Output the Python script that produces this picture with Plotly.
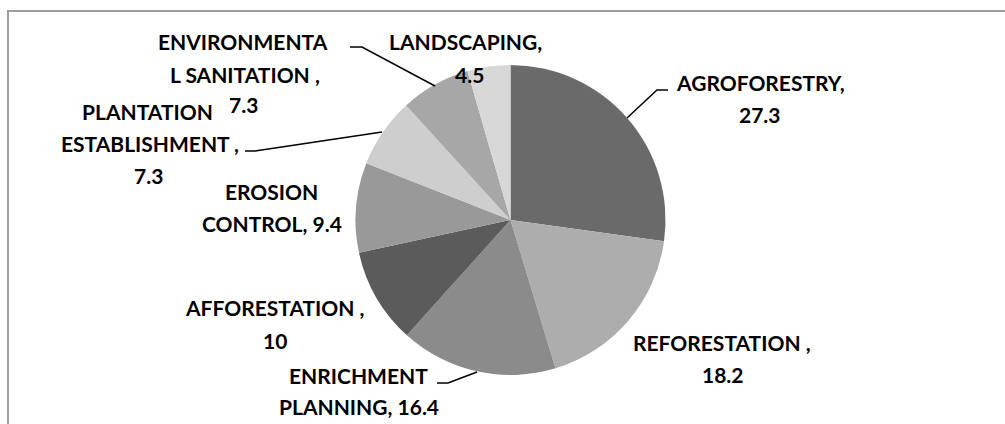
import plotly.graph_objects as go

W, H = 1005, 424

categories = ["AGROFORESTRY", "REFORESTATION", "ENRICHMENT PLANNING", "AFFORESTATION",
              "EROSION CONTROL", "PLANTATION ESTABLISHMENT", "ENVIRONMENTAL SANITATION", "LANDSCAPING"]
values = [27.3, 18.2, 16.4, 10, 9.4, 7.3, 7.3, 4.5]
colors = ["#6a6a6a", "#adadad", "#8b8b8b", "#5b5b5b", "#999999", "#cecece", "#a7a7a7", "#d7d7d7"]

# label text lines (as displayed in the chart)
label_lines = [
    ["AGROFORESTRY,", "27.3"],
    ["REFORESTATION ,", "18.2"],
    ["ENRICHMENT", "PLANNING, 16.4"],
    ["AFFORESTATION ,", "10"],
    ["EROSION", "CONTROL, 9.4"],
    ["PLANTATION", "ESTABLISHMENT ,", "7.3"],
    ["ENVIRONMENTA", "L SANITATION ,", "7.3"],
    ["LANDSCAPING,", "4.5"],
]
# pixel centres of each text line (layout only)
label_pos = [
    [(760, 82), (760, 114)],
    [(722, 342), (723, 374)],
    [(358, 375), (359, 406)],
    [(275, 307), (275, 340)],
    [(271, 191), (272, 223)],
    [(147, 112), (150, 144), (148, 175)],
    [(243, 41), (245, 74), (243, 105)],
    [(465, 41), (469, 74)],
]
# leader lines in pixels (layout only)
leaders = [
    [(668, 90), (657, 90), (627, 118)],
    [(437, 383), (448, 383), (477, 372)],
    [(245, 151), (255, 151), (382, 132)],
    [(350, 47), (362, 47), (435, 86)],
]

def px(x, y):
    return x / W, 1 - y / H

cx, cy, r = 510.5, 220, 155

fig = go.Figure(go.Pie(
    labels=categories, values=values, sort=False, direction="clockwise", rotation=0,
    marker=dict(colors=colors, line=dict(width=0)),
    textinfo="none", hoverinfo="label+value", showlegend=False,
    domain=dict(x=[(cx - r) / W, (cx + r) / W], y=[1 - (cy + r) / H, 1 - (cy - r) / H]),
))

annotations = []
for lines, poss in zip(label_lines, label_pos):
    for t, (x, y) in zip(lines, poss):
        ax, ay = px(x, y)
        annotations.append(dict(x=ax, y=ay, xref="paper", yref="paper", text=t, showarrow=False,
                                xanchor="center", yanchor="middle",
                                font=dict(family="Lato", size=21, color="#000000", weight="bold")))

shapes = []
for pts in leaders:
    path = "M " + " L ".join(f"{px(x, y)[0]:.5f},{px(x, y)[1]:.5f}" for x, y in pts)
    shapes.append(dict(type="path", path=path, xref="paper", yref="paper",
                       line=dict(color="#000000", width=1.5)))
# chart area border (top and left visible)
shapes.append(dict(type="line", xref="paper", yref="paper", x0=px(7, 11)[0], y0=px(7, 11)[1],
                   x1=1.0, y1=px(7, 11)[1], line=dict(color="#9e9e9e", width=2)))
shapes.append(dict(type="line", xref="paper", yref="paper", x0=px(8, 11)[0], y0=px(8, 11)[1],
                   x1=px(8, 424)[0], y1=0.0, line=dict(color="#9e9e9e", width=2)))

fig.update_layout(width=W, height=H, margin=dict(l=0, r=0, t=0, b=0),
                  paper_bgcolor="white", plot_bgcolor="white",
                  annotations=annotations, shapes=shapes)
fig.write_html("out.html", config={"displayModeBar": False},
               post_script="document.body.style.margin='0';document.body.style.overflow='hidden';")
